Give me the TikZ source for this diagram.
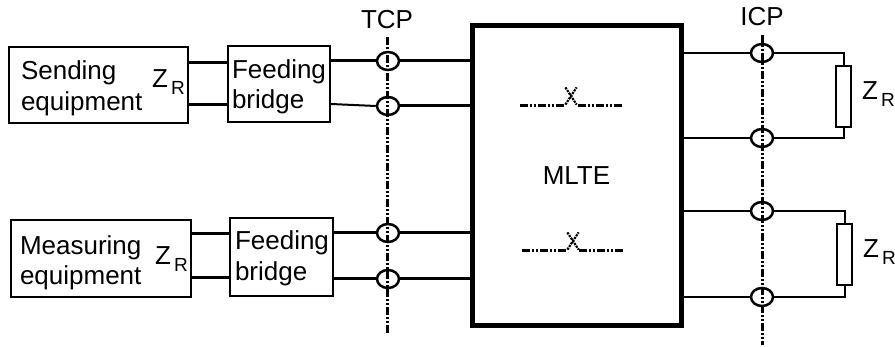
\documentclass[tikz,border=0pt]{standalone}
\usepackage{fontspec}
\setmainfont{Liberation Sans}
\usetikzlibrary{shapes.geometric}
\usetikzlibrary{shapes.misc}
\newcommand{\ZR}{Z\kern3pt\raisebox{-7pt}{\fontsize{19}{19}\selectfont R}}
\newcommand{\lift}[1]{\rule{0pt}{#1pt}}
\tikzset{
  diagram/.style={x=1pt,y=-1pt,font=\fontsize{26}{30.5}\selectfont},
  block/.style={draw,line width=1.8,inner sep=0,align=left},
  wire/.style={line width=3},
  thin wire/.style={line width=2},
  probe/.style={draw,ellipse,line width=2.5,minimum width=22,minimum height=18,inner sep=0},
  refline/.style={line width=3,dash pattern=on 8 off 2 on 2 off 2 on 2 off 2},
  resistor/.style={draw,line width=1.8,inner sep=0,minimum width=15,minimum height=61},
  crossing/.style={draw,cross out,densely dotted,line width=2.2,inner sep=0,minimum width=9,minimum height=15},
}
\begin{document}
\begin{tikzpicture}[diagram]
    \useasboundingbox (0,0) rectangle (895,347);

    % ------- blocks -------
    \node[block,minimum width=179,minimum height=76,text width=155] (send) at (98.5,85) {\lift{25}Sending\\equipment};
    \node[block,minimum width=102,minimum height=76,text width=94] (feedA) at (279,84) {\lift{24}Feeding\\bridge};
    \node[block,minimum width=180,minimum height=77,text width=162] (meas) at (101,258.5) {\lift{27}Measuring\\equipment};
    \node[block,minimum width=103,minimum height=78,text width=93] (feedB) at (281.5,257) {\lift{21}Feeding\\bridge};
    \node[draw,line width=5,minimum width=209,minimum height=300,inner sep=0] (mlte) at (576.5,175.5) {MLTE};

    % ------- probes -------
    \foreach \name/\x/\y in {tcpA/388/61, tcpB/388/106, tcpC/388/233, tcpD/388/279,
                             icpA/762/53, icpB/762/138, icpC/762/211, icpD/762/297} {
        \node[probe] (\name) at (\x,\y) {};
    }

    % ------- reference planes -------
    \node (tcp) at (387,20) {TCP};
    \node (icp) at (762,17) {ICP};
    \coordinate (tcp-top) at (387,37);
    \coordinate (tcp-end) at (387,333);
    \coordinate (icp-top) at (762,35);
    \coordinate (icp-end) at (762,345);
    \draw[refline] (tcp-top) -- (tcp-end);
    \draw[refline] (icp-top) -- (icp-end);

    % ------- wires, left -------
    \coordinate (sendU) at (188,63);
    \coordinate (sendL) at (188,105);
    \coordinate (measU) at (191,234);
    \coordinate (measL) at (191,278);
    \draw[wire] (sendU) -- (sendU -| feedA.west);
    \draw[wire] (sendL) -- (sendL -| feedA.west);
    \draw[wire] (measU) -- (measU -| feedB.west);
    \draw[wire] (measL) -- (measL -| feedB.west);

    \draw[wire] (feedA.east |- tcpA) -- (tcpA.west);
    \draw[thin wire] (feedA.east |- 0,104) -- (tcpB.west);
    \draw[wire] (feedB.east |- tcpC) -- (tcpC.west);
    \draw[wire] (feedB.east |- tcpD) -- (tcpD.west);
    \foreach \name in {tcpA,tcpB,tcpC,tcpD} {
        \draw[wire] (\name.east) -- (\name -| mlte.west);
    }

    % ------- wires, right -------
    \node[resistor] (resA) at (843.5,96.5) {};
    \node[resistor] (resB) at (844.5,254.5) {};
    \draw[thin wire] (mlte.east |- icpA) -- (icpA.west);
    \draw[thin wire] (mlte.east |- icpB) -- (icpB.west);
    \draw[thin wire] (mlte.east |- icpC) -- (icpC.west);
    \draw[thin wire] (mlte.east |- icpD) -- (icpD.west);
    \draw[thin wire] (icpA.east) -| (resA.north);
    \draw[thin wire] (icpB.east) -| (resA.south);
    \draw[thin wire] (icpC.east) -| (resB.north);
    \draw[thin wire] (icpD.east) -| (resB.south);

    % ------- inside MLTE -------
    \node[crossing] (xA) at (571,96) {};
    \node[crossing] (xB) at (573,241) {};
    \coordinate (xA-l) at (520,106);
    \coordinate (xA-r) at (622,106);
    \coordinate (xB-l) at (522,251);
    \coordinate (xB-r) at (623,251);
    \draw[refline] (xA-l) -- (xA.south west |- xA-l);
    \draw[refline] (xA-r) -- (xA.south east |- xA-r);
    \draw[refline] (xB-l) -- (xB.south west |- xB-l);
    \draw[refline] (xB-r) -- (xB.south east |- xB-r);

    % ------- labels -------
    \node[anchor=base west,inner sep=0] (zA) at (152,88) {\ZR};
    \node[anchor=base west,inner sep=0] (zB) at (155,265) {\ZR};
    \node[anchor=base west,inner sep=0] (zC) at (862,100) {\ZR};
    \node[anchor=base west,inner sep=0] (zD) at (863,258) {\ZR};
\end{tikzpicture}
\end{document}
